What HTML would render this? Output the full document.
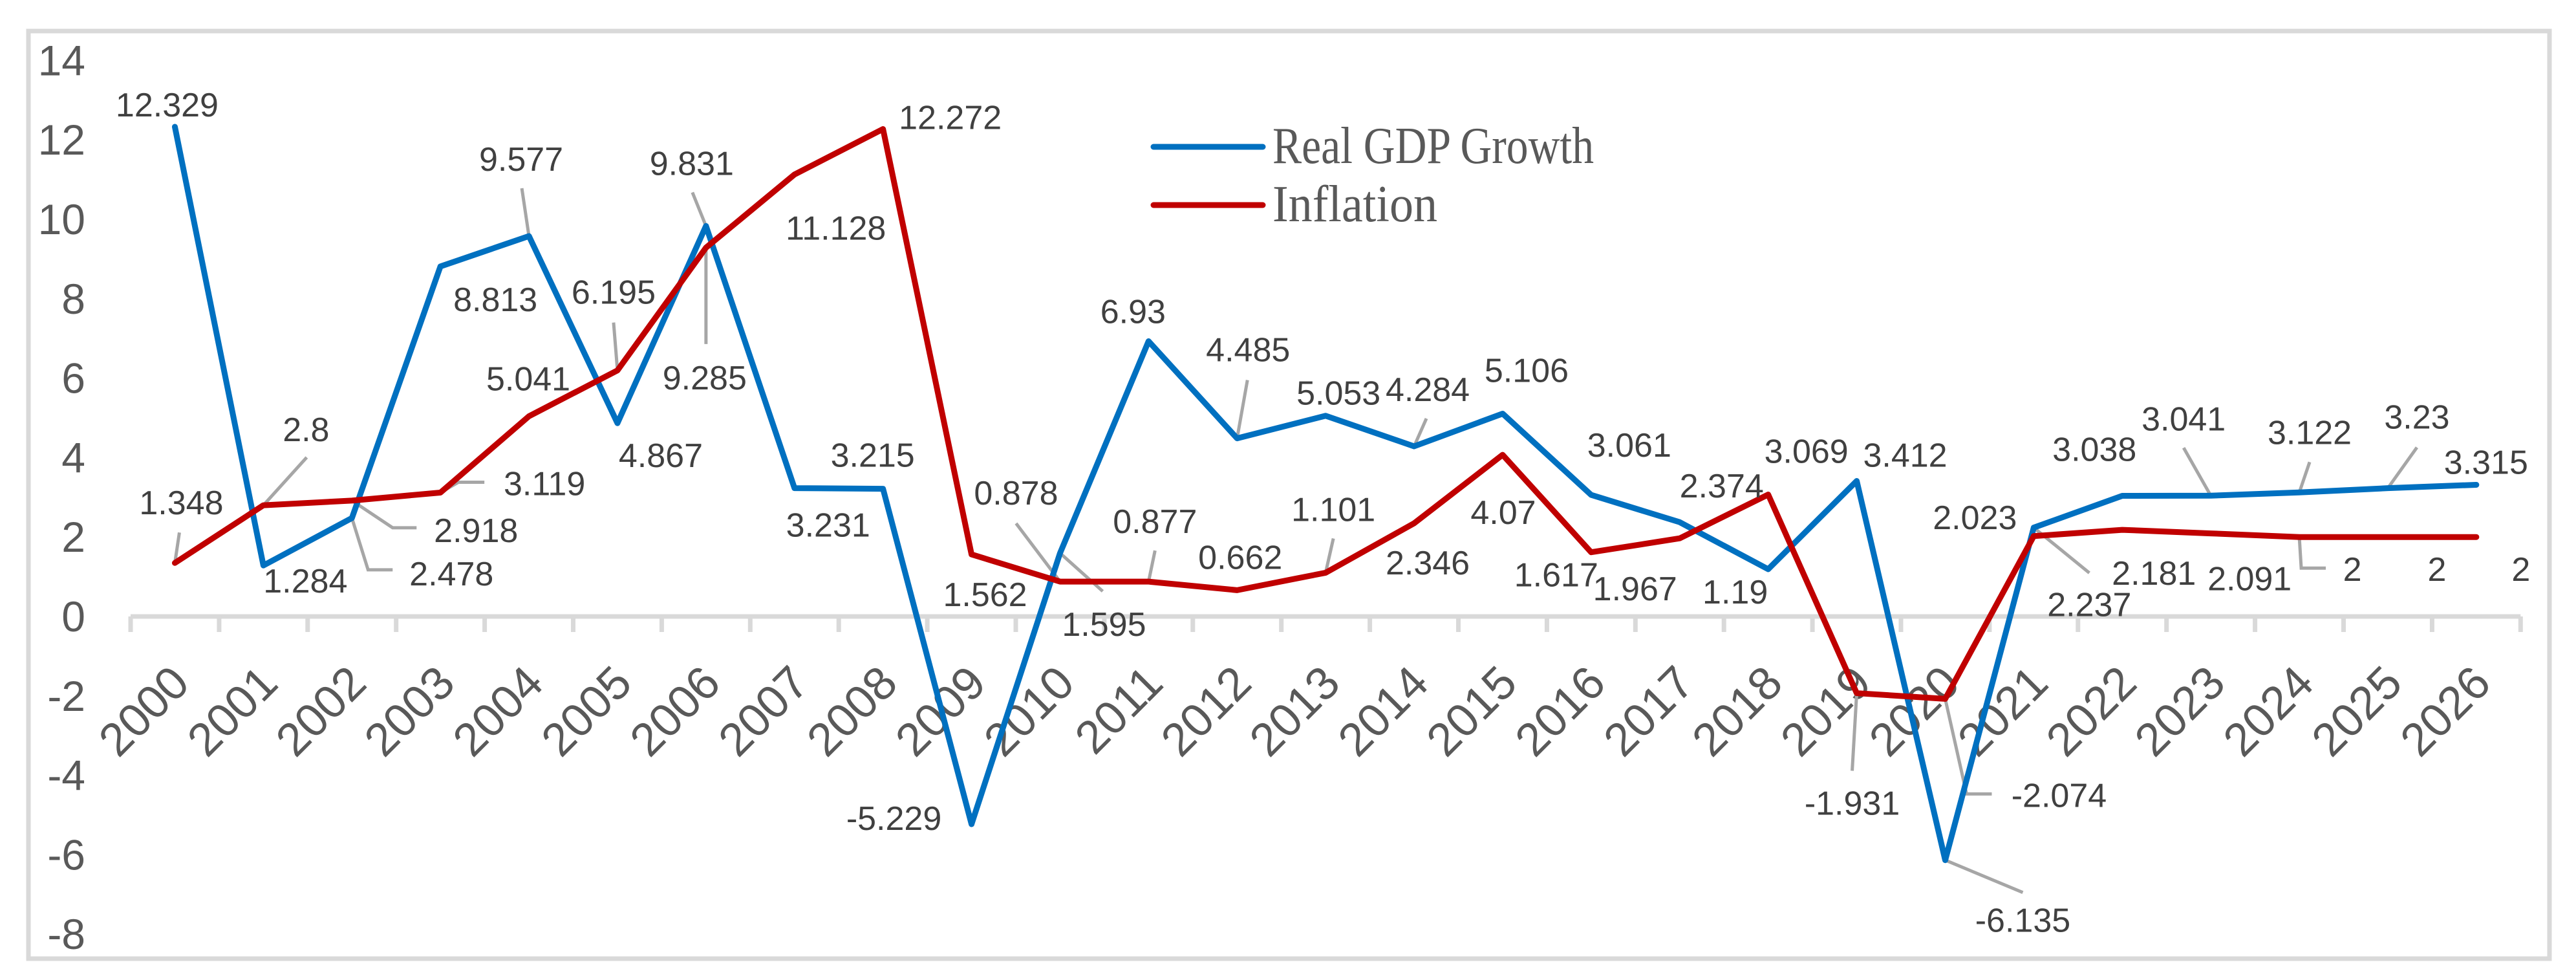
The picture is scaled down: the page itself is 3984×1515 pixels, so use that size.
<!DOCTYPE html>
<html><head><meta charset="utf-8"><style>
html,body{margin:0;padding:0;background:#fff;}
svg{display:block;}
</style></head><body>
<svg id="chart" xmlns="http://www.w3.org/2000/svg" width="3984" height="1515" viewBox="0 0 3984 1515">
<rect x="0" y="0" width="3984" height="1515" fill="#fff"/>
<rect x="44" y="48" width="3899" height="1434" fill="none" stroke="#d9d9d9" stroke-width="7"/>
<g id="yaxis"></g>
<g id="xaxis"></g>
<g id="leaders"></g>
<g id="series"></g>
<g id="labels"></g>
<g>
  <line x1="1784" y1="227" x2="1953" y2="227" stroke="#0070c0" stroke-width="9" stroke-linecap="round"/>
  <text x="1968" y="252" font-family="'Liberation Serif', serif" font-size="80" fill="#595959" textLength="497" lengthAdjust="spacingAndGlyphs">Real GDP Growth</text>
  <line x1="1784" y1="317" x2="1953" y2="317" stroke="#c00000" stroke-width="9" stroke-linecap="round"/>
  <text x="1968" y="342" font-family="'Liberation Serif', serif" font-size="80" fill="#595959" textLength="255" lengthAdjust="spacingAndGlyphs">Inflation</text>
</g>
</svg>
<script>
const years = [2000,2001,2002,2003,2004,2005,2006,2007,2008,2009,2010,2011,2012,2013,2014,2015,2016,2017,2018,2019,2020,2021,2022,2023,2024,2025,2026];
const gdpGrowth = [12.329,1.284,2.478,8.813,9.577,4.867,9.831,3.231,3.215,-5.229,1.595,6.93,4.485,5.053,4.284,5.106,3.061,2.374,1.19,3.412,-6.135,2.237,3.038,3.041,3.122,3.23,3.315];
const inflation = [1.348,2.8,2.918,3.119,5.041,6.195,9.285,11.128,12.272,1.562,0.878,0.877,0.662,1.101,2.346,4.07,1.617,1.967,3.069,-1.931,-2.074,2.023,2.181,2.091,2,2,2];
const yTicks = [14,12,10,8,6,4,2,0,-2,-4,-6,-8];

// layout: label offsets from their point and leader shapes (relative to point)
const gdpLabelOff = [[-12,-33],[65,25],[154,87],[85,52],[-12,-118],[67,51],[-22,-96],[52,58],[-16,-51],[-120,-8],[68,111],[-24,-45],[17,-136],[20,-34],[21,-87],[37,-66],[59,-76],[65,-55],[-51,36],[75,-39],[120,94],[86,120],[-43,-71],[-42,-118],[16,-92],[45,-109],[15,-34]];
const infLabelOff = [[10,-92],[66,-116],[192,47],[161,-13],[-1,-57],[-6,-120],[-2,202],[64,84],[104,-17],[21,63],[-68,-136],[10,-92],[5,-50],[12,-97],[21,62],[1,90],[-54,36],[-69,79],[59,-66],[-7,171],[176,150],[-91,-28],[49,68],[60,71],[82,51],[76,51],[69,51]];
const gdpLeaders = {2:[[0,0],[25,80],[63,80]],4:[[0,0],[-11,-74]],6:[[0,0],[-21,-52]],10:[[0,0],[66,59]],12:[[0,0],[16,-90]],14:[[0,0],[19,-43]],20:[[0,0],[120,50]],21:[[0,0],[86,70]],23:[[0,0],[-42,-74]],24:[[0,0],[16,-47]],25:[[0,0],[45,-63]]};
const infLeaders = {0:[[0,0],[7,-47]],1:[[0,0],[67,-74]],2:[[0,0],[63,42],[100,42]],3:[[0,0],[28,-16],[68,-16]],5:[[0,0],[-6,-74]],6:[[0,0],[0,149]],10:[[0,0],[-68,-90]],11:[[0,0],[10,-48]],13:[[0,0],[12,-53]],19:[[0,0],[-7,120]],20:[[0,0],[33,147],[72,147]],24:[[0,0],[3,48],[41,48]]};

const NS = "http://www.w3.org/2000/svg";
const plotX0 = 202, step = 136.9, zeroY = 953, unit = 61.4;
function xPos(i){ return plotX0 + step*(i+0.5); }
function yPos(v){ return zeroY - unit*v; }
function mk(tag, attrs, parent){
  const el = document.createElementNS(NS, tag);
  for (const k in attrs) el.setAttribute(k, attrs[k]);
  parent.appendChild(el);
  return el;
}
const yaxis = document.getElementById('yaxis');
yTicks.forEach(t => {
  const el = mk('text', {x:132, y:yPos(t), 'text-anchor':'end', 'dominant-baseline':'central', 'font-family':"'Liberation Sans', sans-serif", 'font-size':66, fill:'#595959'}, yaxis);
  
  
  el.textContent = t;
});
const xaxis = document.getElementById('xaxis');
const axisLine = mk('line', {x1:plotX0, y1:zeroY, x2:plotX0+step*years.length, y2:zeroY, stroke:'#d9d9d9', 'stroke-width':7}, xaxis);


for (let i=0;i<=years.length;i++){
  const tk = mk('line', {x1:plotX0+step*i, y1:zeroY, x2:plotX0+step*i, y2:zeroY+24, stroke:'#d9d9d9', 'stroke-width':7}, xaxis);
  
  
}
years.forEach((yr,i) => {
  const ax = xPos(i)+26, ay = 1060;
  const el = mk('text', {x:ax, y:ay, 'text-anchor':'end', transform:`rotate(-45 ${ax} ${ay})`, 'font-family':"'Liberation Sans', sans-serif", 'font-size':72, fill:'#595959'}, xaxis);
  
  
  el.textContent = yr;
});
const leadG = document.getElementById('leaders');
function drawLeaders(vals, leaders){
  for (const k in leaders){
    const i = +k, px = xPos(i), py = yPos(vals[i]);
    const pts = leaders[k].map(p => (px+p[0])+','+(py+p[1])).join(' ');
    const pl = mk('polyline', {points:pts, fill:'none', stroke:'#a6a6a6', 'stroke-width':5}, leadG);
    
    
  }
}
const seriesG = document.getElementById('series');
function drawLine(vals, color, name){
  const pts = vals.map((v,i) => xPos(i)+','+yPos(v)).join(' ');
  const pl = mk('polyline', {points:pts, fill:'none', stroke:color, 'stroke-width':9, 'stroke-linejoin':'round', 'stroke-linecap':'round'}, seriesG);
  
  
}
const labG = document.getElementById('labels');
function drawLabels(vals, offs, name){
  vals.forEach((v,i) => {
    const el = mk('text', {x:xPos(i)+offs[i][0], y:yPos(v)+offs[i][1], 'text-anchor':'middle', 'dominant-baseline':'central', 'font-family':"'Liberation Sans', sans-serif", 'font-size':52, fill:'#404040'}, labG);
    
    
    el.textContent = v;
  });
}
drawLeaders(gdpGrowth, gdpLeaders);
drawLeaders(inflation, infLeaders);
drawLine(gdpGrowth, '#0070c0', 'gdp-growth-line');
drawLine(inflation, '#c00000', 'inflation-line');
drawLabels(gdpGrowth, gdpLabelOff, 'gdp-data-label');
drawLabels(inflation, infLabelOff, 'inflation-data-label');
</script>
</body></html>
